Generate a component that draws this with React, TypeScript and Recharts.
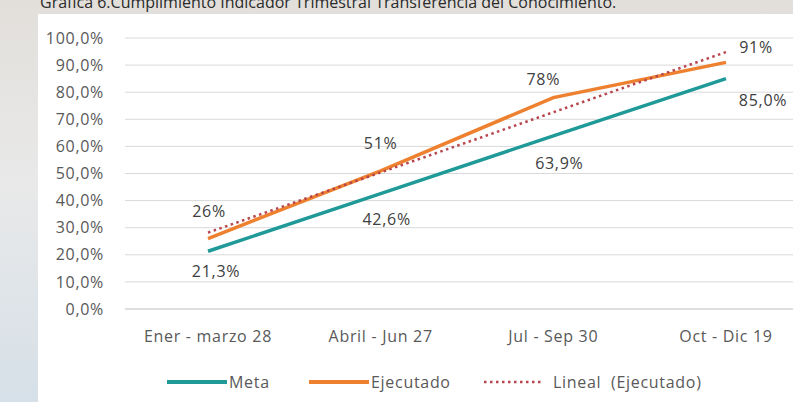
import { LineChart, Line, XAxis, YAxis, CartesianGrid, LabelList } from "recharts";

const TITLE = "Gráfica 6.Cumplimiento Indicador Trimestral Transferencia del Conocimiento.";

const QUARTERS = ["Ener - marzo 28", "Abril - Jun 27", "Jul - Sep 30", "Oct - Dic 19"];
const META = [21.3, 42.6, 63.9, 85.0];
const EJECUTADO = [26, 51, 78, 91];
const LINEAL = [28.2, 50.4, 72.6, 94.8];
const Y_TICKS = [0, 10, 20, 30, 40, 50, 60, 70, 80, 90, 100];

const data = QUARTERS.map((q, i) => ({
  q,
  meta: META[i],
  ejecutado: EJECUTADO[i],
  lineal: LINEAL[i],
}));

const FONT = "'Open Sans', 'DejaVu Sans', sans-serif";
const SPACING = "0.7px";
const TEAL = "#1f9a98";
const ORANGE = "#ee812f";
const DOTS = "#b8444c";

// manual label placement, like the Excel original
const EJEC_OFFSETS = [[1, -28], [0, -28], [-10, -19], [30, -15]];
const META_OFFSETS = [[8, 20], [6, 25], [6, 27], [37, 21]];

const pct = (v: number) => `${v.toFixed(1).replace(".", ",")}%`;

function makeLabel(offsets: number[][], fmt: (v: number) => string) {
  return (props: any) => {
    const { x, y, index, value } = props;
    const [dx, dy] = offsets[index] ?? [0, -20];
    return (
      <text
        x={x + dx}
        y={y + dy}
        textAnchor="middle"
        dominantBaseline="central"
        fill="#404040"
        fontSize={16}
        fontFamily={FONT}
        letterSpacing={SPACING}
      >
        {fmt(Number(value))}
      </text>
    );
  };
}

const LEGEND = [
  { label: "Meta", color: TEAL, dotted: false, left: 167, gap: 2 },
  { label: "Ejecutado", color: ORANGE, dotted: false, left: 309, gap: 2 },
  { label: "Lineal  (Ejecutado)", color: DOTS, dotted: true, left: 484, gap: 9 },
];

function LegendRow() {
  return (
    <>
      {LEGEND.map((it) => (
        <div
          key={it.label}
          style={{
            position: "absolute",
            left: it.left,
            top: 371,
            display: "flex",
            alignItems: "center",
            gap: it.gap,
            fontFamily: FONT,
            fontSize: 16,
            letterSpacing: SPACING,
            color: "#595959",
            whiteSpace: "pre",
          }}
        >
          <svg width={60} height={8}>
            <line
              x1={0}
              y1={4}
              x2={60}
              y2={4}
              stroke={it.color}
              strokeWidth={it.dotted ? 2.5 : 4}
              strokeDasharray={it.dotted ? "2.5 3.5" : undefined}
            />
          </svg>
          <span>{it.label}</span>
        </div>
      ))}
    </>
  );
}

export default function App() {
  const tick = { fill: "#595959", fontSize: 16, fontFamily: FONT, letterSpacing: SPACING };
  return (
    <div
      style={{
        position: "absolute",
        left: 0,
        top: 0,
        width: 793,
        height: 402,
        overflow: "hidden",
        background: "linear-gradient(180deg, #e2dfdb 0%, #e9e9e9 45%, #d6e0e8 100%)",
      }}
    >
      <div
        style={{
          position: "absolute",
          left: 40,
          top: -6,
          fontFamily: FONT,
          fontSize: 16,
          lineHeight: "16px",
          color: "#2b2b2b",
          whiteSpace: "nowrap",
        }}
      >
        {TITLE}
      </div>
      <div
        style={{
          position: "absolute",
          left: 38,
          top: 14,
          width: 760,
          height: 400,
          background: "#ffffff",
        }}
      />
      <div style={{ position: "absolute", left: 0, top: 0 }}>
        <LineChart
          width={815}
          height={402}
          data={data}
          margin={{ top: 38, right: 6, bottom: 53, left: 0 }}
          style={{ fontFamily: FONT }}
        >
          <CartesianGrid vertical={false} stroke="#d9d9d9" />
          <XAxis
            dataKey="q"
            padding={{ left: 83, right: 83 }}
            interval={0}
            height={40}
            tickLine={false}
            axisLine={{ stroke: "#d0d0d0" }}
            tickMargin={16}
            tick={tick}
          />
          <YAxis
            width={125}
            domain={[0, 100]}
            ticks={Y_TICKS}
            tickFormatter={pct}
            axisLine={false}
            tickLine={false}
            tickMargin={15}
            tick={tick}
          />
          <Line
            dataKey="meta"
            stroke={TEAL}
            strokeWidth={3.5}
            dot={false}
            isAnimationActive={false}
          >
            <LabelList dataKey="meta" content={makeLabel(META_OFFSETS, pct)} />
          </Line>
          <Line
            dataKey="ejecutado"
            stroke={ORANGE}
            strokeWidth={3.5}
            dot={false}
            isAnimationActive={false}
          >
            <LabelList
              dataKey="ejecutado"
              content={makeLabel(EJEC_OFFSETS, (v) => `${Math.round(v)}%`)}
            />
          </Line>
          <Line
            dataKey="lineal"
            stroke={DOTS}
            strokeWidth={2.5}
            strokeDasharray="2.5 3.5"
            dot={false}
            isAnimationActive={false}
          />
        </LineChart>
      </div>
      <LegendRow />
    </div>
  );
}
